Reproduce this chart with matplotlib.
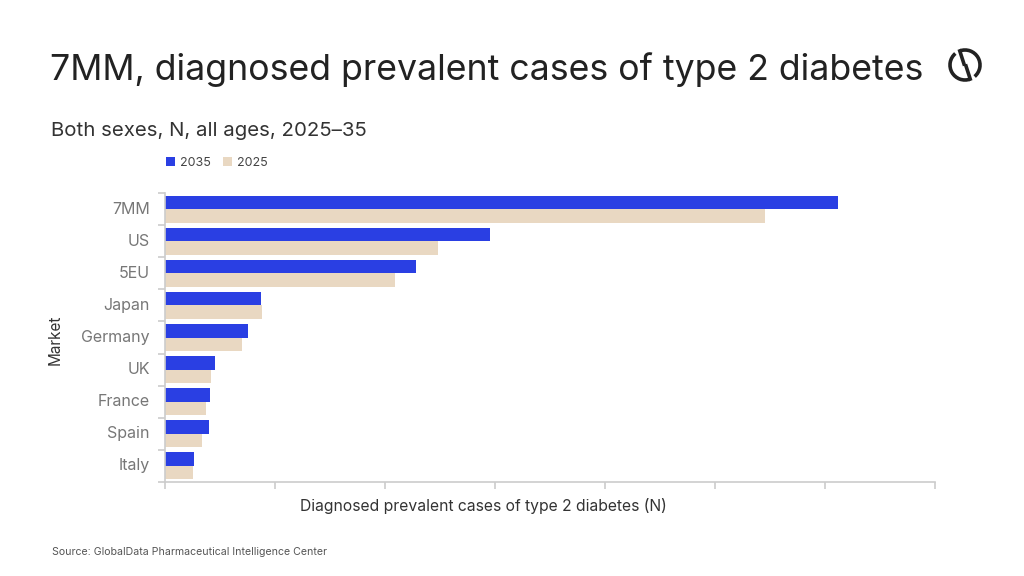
import matplotlib.pyplot as plt
import numpy as np
from matplotlib.patches import Arc
from matplotlib.lines import Line2D

# data (millions of cases, approx)
markets = ["7MM", "US", "5EU", "Japan", "Germany", "UK", "France", "Spain", "Italy"]
cases_2035 = [61.2, 29.5, 22.8, 8.7, 7.5, 4.5, 4.1, 4.0, 2.6]
cases_2025 = [54.5, 24.8, 20.9, 8.8, 7.0, 4.2, 3.7, 3.4, 2.5]

blue = "#2a3fe3"
beige = "#e9d8c2"
grey = "#777777"

plt.rcParams['font.family'] = ['Inter', 'DejaVu Sans']

fig = plt.figure(figsize=(10.24, 5.76), dpi=100)
ax = fig.add_axes([165/1024, 1-482/576, 770/1024, 289/576])

y = np.arange(len(markets))
h = 0.42
ax.barh(y - h/2, cases_2035, height=h, color=blue, label="2035")
ax.barh(y + h/2, cases_2025, height=h, color=beige, label="2025")

ax.set_ylim(len(markets) - 0.5, -0.5)
ax.set_xlim(0, 70)
ax.set_xticks(np.arange(0, 71, 10))
ax.set_xticklabels([])
ax.set_yticks(y)
ax.set_yticklabels(markets, color=grey, fontsize=11.5, va="bottom")
for lbl in ax.get_yticklabels():
    lbl.set_verticalalignment("center")
ax.set_yticks(np.arange(-0.5, len(markets), 1), minor=True)
ax.tick_params(axis="y", which="major", length=0, pad=11)
ax.tick_params(axis="y", which="minor", length=5, color="#cccccc", width=1.2)
ax.tick_params(axis="x", length=5, color="#cccccc", width=1.2)

for s in ["top", "right"]:
    ax.spines[s].set_visible(False)
for s in ["left", "bottom"]:
    ax.spines[s].set_color("#cccccc")
    ax.spines[s].set_linewidth(1.2)

ax.set_xlabel("Diagnosed prevalent cases of type 2 diabetes (N)", fontsize=11.3,
              color="#333333")
ax.xaxis.set_label_coords((483-165)/770, -0.055)
ax.xaxis.label.set_horizontalalignment("center")
fig.text(55/1024, 1-340/576, "Market", rotation=90, fontsize=11, color="#333333",
         ha="center", va="center")

ax.legend(loc="lower left", bbox_to_anchor=(-0.005, 1.065), ncol=2, frameon=False,
          fontsize=9, handlelength=0.7, handleheight=0.7, handletextpad=0.4,
          columnspacing=1.0, labelcolor="#444444", borderaxespad=0)

fig.text(50/1024, 1-70/576, "7MM, diagnosed prevalent cases of type 2 diabetes",
         fontsize=25.7, color="#222222", va="center")
fig.text(51/1024, 1-131/576, "Both sexes, N, all ages, 2025\u201335",
         fontsize=14.7, color="#333333", va="center")
fig.text(52/1024, 1-552/576, "Source: GlobalData Pharmaceutical Intelligence Center",
         fontsize=7.6, color="#555555", va="center")

# logo
lax = fig.add_axes([945/1024, 1-85/576, 40/1024, 40/576])
lax.set_xlim(-1, 1)
lax.set_ylim(-1, 1)
lax.set_aspect("equal")
lax.axis("off")
lax.add_patch(Arc((0, 0), 1.5, 1.5, theta1=130, theta2=290, lw=2.6, color="#222222"))
lax.add_patch(Arc((0, 0), 1.5, 1.5, theta1=310, theta2=110, lw=2.6, color="#222222"))
lax.add_line(Line2D([-0.26, -0.05], [0.7, 0.05], lw=2.6, color="#222222"))
lax.add_line(Line2D([0.05, 0.26], [-0.05, -0.7], lw=2.6, color="#222222"))

fig.savefig("out.png", dpi=100)
